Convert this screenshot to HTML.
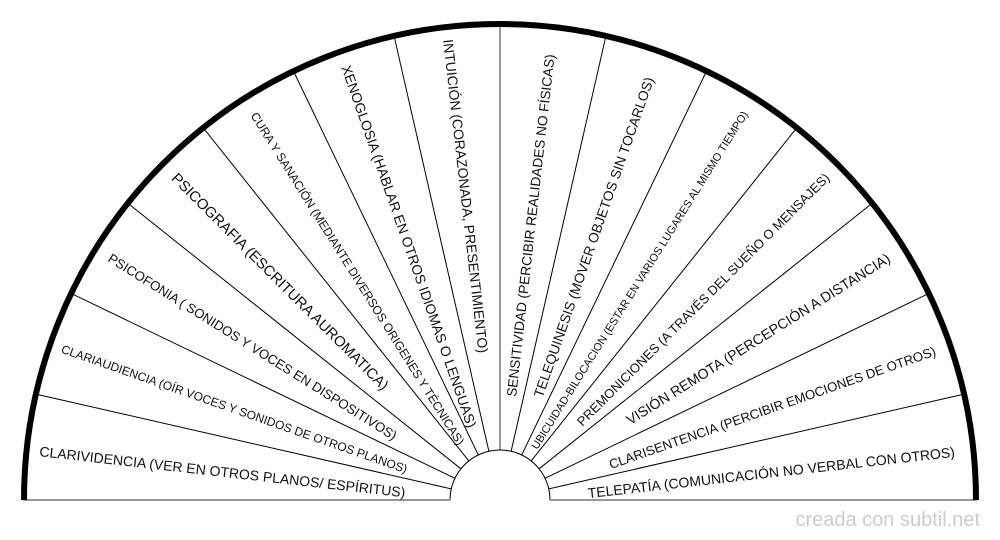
<!DOCTYPE html>
<html><head><meta charset="utf-8"><style>
html,body{margin:0;padding:0;background:#fff;}
svg{display:block;}
text{font-family:"Liberation Sans",sans-serif;fill:#111;dominant-baseline:central;}
</style></head><body>
<svg width="1000" height="540" viewBox="0 0 1000 540">
<g stroke="#000" stroke-width="1" fill="none">
<g transform="translate(500,500)">
<line x1="-50" y1="0" x2="-476" y2="0" transform="rotate(12.857)"/>
<line x1="-50" y1="0" x2="-476" y2="0" transform="rotate(25.714)"/>
<line x1="-50" y1="0" x2="-476" y2="0" transform="rotate(38.571)"/>
<line x1="-50" y1="0" x2="-476" y2="0" transform="rotate(51.429)"/>
<line x1="-50" y1="0" x2="-476" y2="0" transform="rotate(64.286)"/>
<line x1="-50" y1="0" x2="-476" y2="0" transform="rotate(77.143)"/>
<line x1="-50" y1="0" x2="-476" y2="0" transform="rotate(90)" stroke="#777" stroke-width="1.5"/>
<line x1="-50" y1="0" x2="-476" y2="0" transform="rotate(102.857)"/>
<line x1="-50" y1="0" x2="-476" y2="0" transform="rotate(115.714)"/>
<line x1="-50" y1="0" x2="-476" y2="0" transform="rotate(128.571)"/>
<line x1="-50" y1="0" x2="-476" y2="0" transform="rotate(141.429)"/>
<line x1="-50" y1="0" x2="-476" y2="0" transform="rotate(154.286)"/>
<line x1="-50" y1="0" x2="-476" y2="0" transform="rotate(167.143)"/>
<path d="M -50 0 A 50 50 0 0 1 50 0"/>
</g>
<line x1="23" y1="500" x2="450" y2="500" stroke="#777" stroke-width="1.5"/>
<line x1="550" y1="500" x2="977" y2="500" stroke="#777" stroke-width="1.5"/>
<path d="M 24 500 A 476 476 0 0 1 976 500" stroke-width="6"/>
</g>
<g transform="translate(500,500)">
<text transform="rotate(6.43)" x="-95" y="3" text-anchor="end" font-size="14">CLARIVIDENCIA (VER EN OTROS PLANOS/ ESPÍRITUS)</text>
<text transform="rotate(19.29)" x="-98" y="2" text-anchor="end" font-size="12">CLARIAUDIENCIA (OÍR VOCES Y SONIDOS DE OTROS PLANOS)</text>
<text transform="rotate(32.14)" x="-122" y="2" text-anchor="end" font-size="13.2">PSICOFONIA ( SONIDOS Y VOCES EN DISPOSITIVOS)</text>
<text transform="rotate(45)" x="-160" y="2" text-anchor="end" font-size="14.8">PSICOGRAFIA (ESCRITURA AUROMATICA)</text>
<text transform="rotate(57.86)" x="-68" y="3" text-anchor="end" font-size="12">CURA Y SANACIÓN (MEDIANTE DIVERSOS ORIGENES Y TÉCNICAS)</text>
<text transform="rotate(70.71)" x="-78" y="2" text-anchor="end" font-size="13.9">XENOGLOSIA (HABLAR EN OTROS IDIOMAS O LENGUAS)</text>
<text transform="rotate(83.57)" x="-148" y="0" text-anchor="end" font-size="14">INTUICIÓN (CORAZONADA, PRESENTIMIENTO)</text>
<text transform="rotate(-83.57)" x="104" y="0" text-anchor="start" font-size="13.7">SENSITIVIDAD (PERCIBIR REALIDADES NO FÍSICAS)</text>
<text transform="rotate(-70.71)" x="110" y="2" text-anchor="start" font-size="13.8">TELEQUINESIS (MOVER OBJETOS SIN TOCARLOS)</text>
<text transform="rotate(-57.86)" x="62" y="2" text-anchor="start" font-size="11">UBICUIDAD-BILOCACION (ESTAR EN VARIOS LUGARES AL MISMO TIEMPO)</text>
<text transform="rotate(-45)" x="110" y="2" text-anchor="start" font-size="13">PREMONICIONES (A TRAVÉS DEL SUEÑO O MENSAJES)</text>
<text transform="rotate(-32.14)" x="150" y="2" text-anchor="start" font-size="14.2">VISIÓN REMOTA (PERCEPCIÓN A DISTANCIA)</text>
<text transform="rotate(-19.29)" x="115" y="3" text-anchor="start" font-size="13.2">CLARISENTENCIA (PERCIBIR EMOCIONES DE OTROS)</text>
<text transform="rotate(-6.43)" x="88" y="3" text-anchor="start" font-size="14">TELEPATÍA (COMUNICACIÓN NO VERBAL CON OTROS)</text>
</g>
<text x="980" y="520" text-anchor="end" font-size="20" style="fill:#ccc">creada con subtil.net</text>
</svg>
</body></html>
